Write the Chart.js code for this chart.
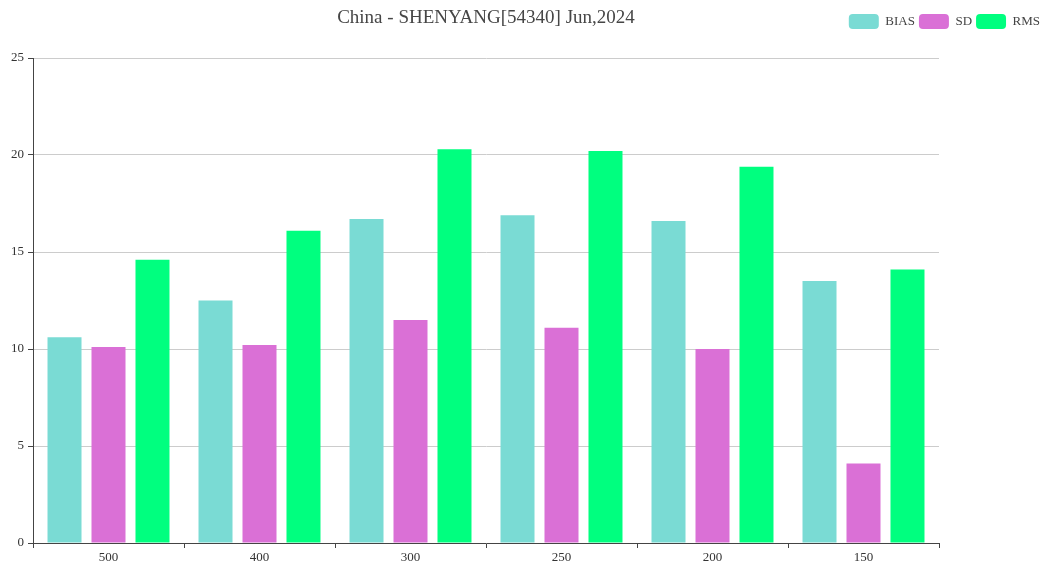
<!DOCTYPE html>
<html>
<head>
<meta charset="utf-8">
<script src="https://cdn.jsdelivr.net/npm/chart.js@4"></script>
<style>
    html, body { margin: 0; padding: 0; background: #fff; }
    #wrap { width: 1050px; height: 566px; }
</style>
</head>
<body>
<div id="wrap"><canvas id="bar-canvas"></canvas></div>
<script>
const titleText = 'China - SHENYANG[54340] Jun,2024';
const levels = ['500', '400', '300', '250', '200', '150'];
const biasValues = [10.6, 12.5, 16.7, 16.9, 16.6, 13.5];
const sdValues = [10.1, 10.2, 11.5, 11.1, 10.0, 4.1];
const rmsValues = [14.6, 16.1, 20.3, 20.2, 19.4, 14.1];
const yTicks = [0, 5, 10, 15, 20, 25];

const FONT = "'Liberation Serif', 'DejaVu Serif', serif";

// NOTE title sits over the middle of the plot, not the whole canvas
const titlePlugin = {
    id: 'plotTitle',
    afterDraw(chart) {
        const { ctx, chartArea } = chart;
        ctx.save();
        ctx.font = `19px ${FONT}`;
        ctx.fillStyle = '#464646';
        ctx.textAlign = 'center';
        ctx.textBaseline = 'middle';
        ctx.fillText(titleText, (chartArea.left + chartArea.right) / 2, 18);
        ctx.restore();
    },
};

// legend row height, so the plot starts at the right spot
const legendFit = {
    id: 'legendFit',
    beforeInit(chart) {
        const fit = chart.legend.fit;
        chart.legend.fit = function () {
            fit.bind(chart.legend)();
            this.height = 48;
        };
    },
};

function barSet(label, data, color) {
    return {
        label: label,
        data: data,
        backgroundColor: color,
        borderWidth: 0,
        categoryPercentage: 0.874,
        barPercentage: 0.773,
    };
}

const canva = document.getElementById('bar-canvas');

new Chart(canva, {
    type: 'bar',
    data: {
        labels: levels,
        datasets: [
            barSet('BIAS', biasValues, '#7adbd4'),
            barSet('SD', sdValues, '#da70d6'),
            barSet('RMS', rmsValues, '#00ff7f'),
        ],
    },
    options: {
        responsive: true,
        maintainAspectRatio: false,
        animation: false,
        layout: { padding: { top: 10, right: 6, left: 0, bottom: 0 } },
        plugins: {
            title: { display: false },
            tooltip: { enabled: false },
            legend: {
                position: 'top',
                align: 'end',
                labels: {
                    boxWidth: 30,
                    boxHeight: 15,
                    useBorderRadius: true,
                    borderRadius: 4,
                    padding: 4,
                    color: '#444',
                    font: { family: FONT, size: 13 },
                },
            },
        },
        scales: {
            x: {
                grid: {
                    offset: true,
                    drawOnChartArea: false,
                    drawTicks: true,
                    tickLength: 5,
                    tickColor: '#444',
                },
                border: { color: '#444', width: 1 },
                ticks: {
                    color: '#333',
                    padding: 2,
                    font: { family: FONT, size: 13 },
                },
                afterFit(scale) {
                    scale.height = 23;
                },
            },
            y: {
                min: 0,
                max: 25,
                afterBuildTicks(scale) {
                    scale.ticks = yTicks.map((v) => ({ value: v }));
                },
                grid: {
                    color: '#cccccc',
                    tickLength: 5,
                    tickColor: '#444',
                },
                border: { color: '#444', width: 1 },
                ticks: {
                    color: '#333',
                    padding: 4,
                    font: { family: FONT, size: 13 },
                },
                afterFit(scale) {
                    scale.width = 33;
                },
            },
            // empty right-hand axis keeps room for the legend column
            right: {
                position: 'right',
                display: true,
                grid: { display: false, drawTicks: false },
                border: { display: false },
                ticks: { display: false },
                afterFit(scale) {
                    scale.width = 105;
                },
            },
        },
    },
    plugins: [titlePlugin, legendFit],
});
</script>
</body>
</html>
